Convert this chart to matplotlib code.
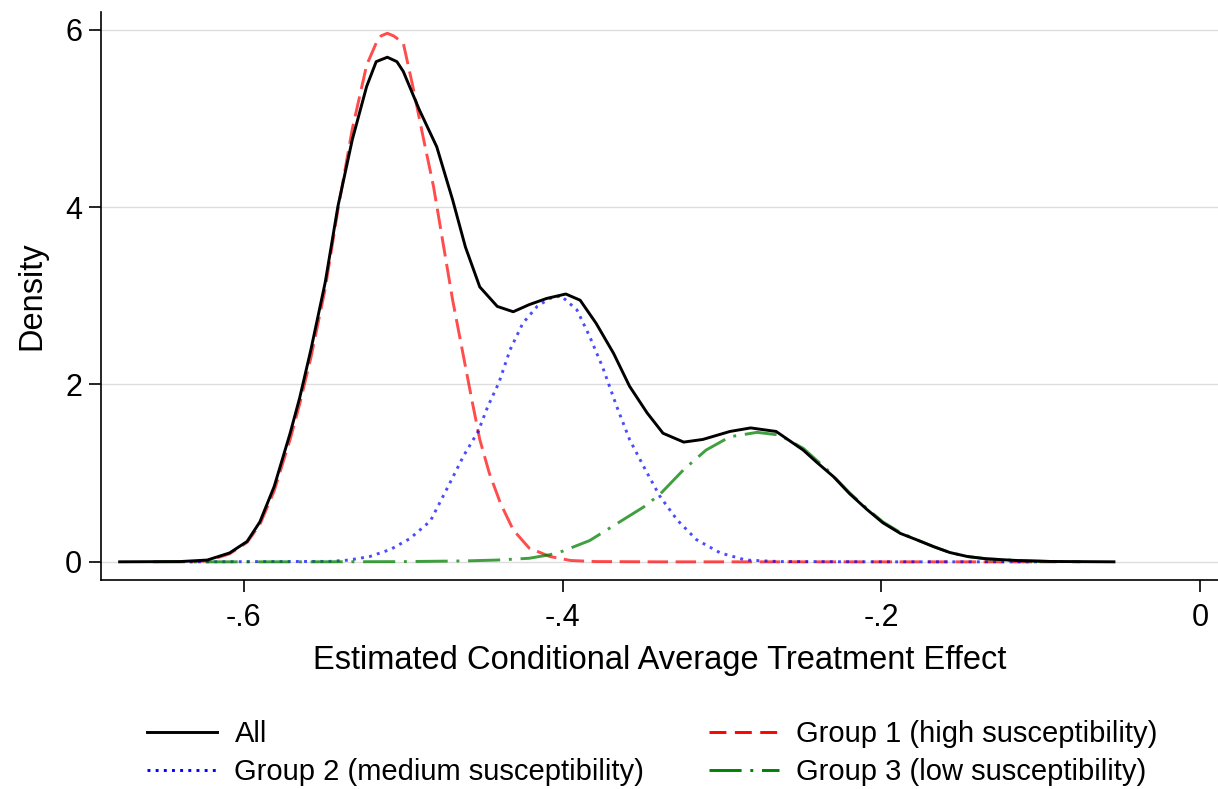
import matplotlib
matplotlib.use("Agg")
import matplotlib.pyplot as plt
from matplotlib.lines import Line2D

plt.rcParams['font.family'] = ['Liberation Sans', 'DejaVu Sans']

# Kernel density curves
x_all = [-0.678, -0.640, -0.623, -0.609, -0.598, -0.590, -0.581, -0.571, -0.565,
         -0.558, -0.549, -0.541, -0.532, -0.523, -0.517, -0.510, -0.504, -0.500,
         -0.490, -0.479, -0.469, -0.461, -0.452, -0.441, -0.431, -0.421, -0.410,
         -0.398, -0.389, -0.379, -0.368, -0.358, -0.347, -0.337, -0.324, -0.312,
         -0.295, -0.282, -0.266, -0.249, -0.241, -0.230, -0.220, -0.209, -0.199,
         -0.188, -0.178, -0.167, -0.157, -0.146, -0.134, -0.115, -0.094, -0.054]
y_all = [0.0, 0.003, 0.02, 0.10, 0.23, 0.45, 0.85, 1.45, 1.85,
         2.39, 3.15, 4.01, 4.76, 5.36, 5.64, 5.69, 5.64, 5.53,
         5.10, 4.68, 4.08, 3.55, 3.10, 2.88, 2.82, 2.90, 2.97,
         3.02, 2.95, 2.69, 2.35, 1.98, 1.68, 1.45, 1.35, 1.38,
         1.47, 1.51, 1.47, 1.26, 1.13, 0.96, 0.77, 0.59, 0.44,
         0.32, 0.25, 0.17, 0.105, 0.06, 0.034, 0.015, 0.004, 0.0]

x_g1 = [-0.634, -0.623, -0.609, -0.598, -0.590, -0.581, -0.571, -0.565, -0.558,
        -0.549, -0.541, -0.532, -0.523, -0.517, -0.514, -0.510, -0.506, -0.500,
        -0.494, -0.488, -0.481, -0.475, -0.469, -0.463, -0.457, -0.452, -0.446,
        -0.439, -0.431, -0.421, -0.408, -0.395, -0.379, -0.340, -0.280, -0.200,
        -0.090]
y_g1 = [0.0, 0.01, 0.09, 0.22, 0.42, 0.80, 1.38, 1.78, 2.30,
        3.08, 3.97, 4.88, 5.60, 5.85, 5.93, 5.96, 5.93, 5.85,
        5.36, 4.83, 4.23, 3.59, 2.95, 2.39, 1.83, 1.38, 1.00,
        0.66, 0.36, 0.155, 0.06, 0.015, 0.003, 0.0, 0.0, 0.0,
        0.0]

x_g2 = [-0.634, -0.546, -0.534, -0.521, -0.508, -0.496, -0.483, -0.471, -0.462,
        -0.453, -0.447, -0.440, -0.433, -0.425, -0.416, -0.408, -0.401, -0.391,
        -0.383, -0.375, -0.366, -0.358, -0.349, -0.339, -0.328, -0.316, -0.301,
        -0.285, -0.264, -0.200, -0.099]
y_g2 = [0.0, 0.005, 0.02, 0.06, 0.14, 0.26, 0.46, 0.88, 1.20,
        1.47, 1.75, 2.02, 2.39, 2.69, 2.88, 2.97, 3.00, 2.84,
        2.54, 2.20, 1.75, 1.38, 1.07, 0.74, 0.47, 0.25, 0.10,
        0.02, 0.003, 0.0, 0.0]

x_g3 = [-0.657, -0.565, -0.502, -0.462, -0.441, -0.421, -0.408, -0.400, -0.383,
        -0.366, -0.349, -0.339, -0.324, -0.310, -0.295, -0.278, -0.264, -0.249,
        -0.234, -0.220, -0.209, -0.199, -0.188, -0.178, -0.167, -0.157, -0.146,
        -0.134, -0.115, -0.094, -0.075]
y_g3 = [0.0, 0.0, 0.002, 0.01, 0.02, 0.04, 0.08, 0.12, 0.24,
        0.43, 0.62, 0.76, 1.04, 1.26, 1.41, 1.46, 1.43, 1.28,
        1.04, 0.78, 0.60, 0.45, 0.33, 0.25, 0.17, 0.105, 0.06,
        0.034, 0.015, 0.004, 0.0]

labels = ['All', 'Group 1 (high susceptibility)',
          'Group 2 (medium susceptibility)', 'Group 3 (low susceptibility)']

fig = plt.figure(figsize=(12.18, 7.89), dpi=100)
ax = fig.add_axes([101 / 1218, 1 - 580 / 789, 1 - 101 / 1218, (580 - 12) / 789])

lw = 2.1
dash_g1 = (7.0, 2.6)
dash_g2 = (1.0, 1.8)
dash_g3 = (11.0, 3.0, 1.0, 3.0)
ax.plot(x_g1, y_g1, color='red', alpha=0.7, lw=lw, dashes=dash_g1, zorder=3)
ax.plot(x_g2, y_g2, color='blue', alpha=0.7, lw=lw, dashes=dash_g2, zorder=3)
ax.plot(x_g3, y_g3, color='green', alpha=0.75, lw=lw, dashes=dash_g3, zorder=3)
ax.plot(x_all, y_all, color='black', lw=lw, zorder=4)

ax.set_xlim(-0.6897, 0.0113)
ax.set_ylim(-0.205, 6.2)
ax.set_xticks([-0.6, -0.4, -0.2, 0])
ax.set_xticklabels(['-.6', '-.4', '-.2', '0'])
ax.set_yticks([0, 2, 4, 6])
ax.set_yticklabels(['0', '2', '4', '6'])
ax.yaxis.grid(True, color='#dddddd', lw=1.0, zorder=0)
ax.set_axisbelow(True)
for side in ['top', 'right']:
    ax.spines[side].set_visible(False)
for side in ['left', 'bottom']:
    ax.spines[side].set_linewidth(1.2)
ax.tick_params(axis='both', direction='out', length=8.5, width=1.2,
               labelsize=22, colors='black')
ax.tick_params(axis='x', pad=8)
ax.tick_params(axis='y', pad=5)
ax.set_xlabel('Estimated Conditional Average Treatment Effect', fontsize=23.5, labelpad=9)
ax.set_ylabel('Density', fontsize=23.5, labelpad=13)

# legend in Stata order: All, Group 2 / Group 1, Group 3 (column-major)
h_all = Line2D([], [], color='black', lw=lw)
h_g1 = Line2D([], [], color='red', lw=lw, dashes=(5.8, 2.9))
h_g2 = Line2D([], [], color='blue', lw=lw, dashes=dash_g2)
h_g3 = Line2D([], [], color='green', lw=lw, dashes=dash_g3)
fig.legend([h_all, h_g2, h_g1, h_g3],
           [labels[0], labels[2], labels[1], labels[3]],
           ncol=2, frameon=False, loc='upper left',
           bbox_to_anchor=(147 / 1218, 1 - 720 / 789),
           fontsize=21, handlelength=2.4, handletextpad=0.6,
           columnspacing=2.2, labelspacing=0.34, borderpad=0, borderaxespad=0)

fig.savefig('out.png', dpi=100)
